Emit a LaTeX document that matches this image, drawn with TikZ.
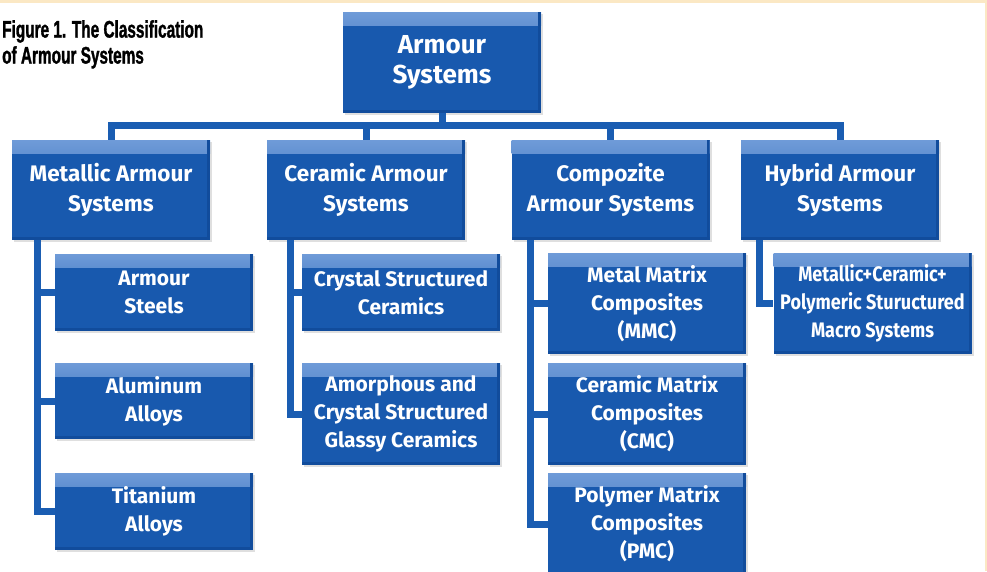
\documentclass[tikz,border=0pt]{standalone}
\usepackage{fontspec}
\newfontfamily\boxfont{Fira Sans}
\newfontfamily\narrowfont[FakeStretch=0.86]{Fira Sans}
\newfontfamily\capfont[FakeStretch=0.64,FakeBold=1.2]{Liberation Sans}
\usetikzlibrary{shadows}

\definecolor{boxblue}{HTML}{1859AE}
\definecolor{boxtop}{HTML}{6F9BD8}
\definecolor{boxbottom}{HTML}{114C9C}
\definecolor{linkblue}{HTML}{1A5DB2}
\definecolor{paper}{HTML}{FBE8C4}

\tikzset{
  bus/.style={to path={-- ++(0,12) -| (\tikztotarget)}},
  branch/.style={to path={|- (\tikztotarget)}}
}

\begin{document}
\begin{tikzpicture}[x=1pt,y=-1pt]

        \fill[paper] (0,0) rectangle (987,571);
        \fill[white] (0,3) rectangle (985,571);
        \useasboundingbox (0,0) rectangle (987,571);

        \node[anchor=north west,inner sep=0pt,align=left,
              font=\capfont\bfseries\fontsize{24}{26}\selectfont] (caption) at (2,20)
              {Figure 1. The Classification\\of Armour Systems};

        \begin{scope}[every node/.style={fill=boxblue,text=white,align=center,inner sep=0pt,
            minimum width=198pt,drop shadow={opacity=.25,shadow xshift=2pt,shadow yshift=-2pt},
            font=\boxfont\bfseries\fontsize{21}{28}\selectfont,
            path picture={
              \shade[top color=boxtop,bottom color=boxblue]
                (path picture bounding box.north west) rectangle ([yshift=-13pt]path picture bounding box.north east);
              \fill[boxbottom]
                (path picture bounding box.south west) rectangle ([yshift=3pt]path picture bounding box.south east);
              \fill[boxbottom]
                (path picture bounding box.north east) rectangle ([xshift=-3pt]path picture bounding box.south east);}}]
          \node[minimum height=101pt,font=\boxfont\bfseries\fontsize{26}{30}\selectfont] (0) at (442,62.5) {Armour\\Systems};

          \node[minimum height=100pt,font=\boxfont\bfseries\fontsize{22.5}{30}\selectfont] (1) at (111,190)   {Metallic Armour\\Systems};
          \node[minimum height=100pt,font=\boxfont\bfseries\fontsize{22.5}{30}\selectfont] (2) at (366,190)   {Ceramic Armour\\Systems};
          \node[minimum height=100pt,font=\boxfont\bfseries\fontsize{22.5}{30}\selectfont] (3) at (610.5,190) {Compozite\\Armour Systems};
          \node[minimum height=100pt,font=\boxfont\bfseries\fontsize{22.5}{30}\selectfont] (4) at (840,190)   {Hybrid Armour\\Systems};

          \node[minimum height=77pt]  (11) at (154,292.5) {Armour\\Steels};
          \node[minimum height=76pt]  (12) at (154,401)   {Aluminum\\Alloys};
          \node[minimum height=77pt]  (13) at (154,511.5) {Titanium\\Alloys};
          \node[minimum height=77pt]  (21) at (401,292.5) {Crystal Structured\\Ceramics};
          \node[minimum height=102pt] (22) at (401,414)   {Amorphous and\\Crystal Structured\\Glassy Ceramics};
          \node[minimum height=101pt] (31) at (647,303.5) {Metal Matrix\\Composites\\(MMC)};
          \node[minimum height=102pt] (32) at (647,414)   {Ceramic Matrix\\Composites\\(CMC)};
          \node[minimum height=102pt] (33) at (647,524)   {Polymer Matrix\\Composites\\(PMC)};
          \node[minimum height=101pt,font=\narrowfont\bfseries\fontsize{21}{28}\selectfont] (41) at (872.5,303.5) {Metallic+Ceramic+\\Polymeric Stuructured\\Macro Systems};
        \end{scope}

        \begin{scope}[every edge/.style={draw=linkblue,line width=7pt}]
          \path (0.south) edge[bus] (1.north);
          \path (0.south) edge[bus] (2.north);
          \path (0.south) edge[bus] (3.north);
          \path (0.south) edge[bus] (4.north);

          \path ([xshift=26pt]1.south west) edge[branch] (11.west);
          \path ([xshift=26pt]1.south west) edge[branch] (12.west);
          \path ([xshift=26pt]1.south west) edge[branch] (13.west);
          \path ([xshift=24pt]2.south west) edge[branch] (21.west);
          \path ([xshift=24pt]2.south west) edge[branch] (22.west);
          \path ([xshift=19pt]3.south west) edge[branch] (31.west);
          \path ([xshift=19pt]3.south west) edge[branch] (32.west);
          \path ([xshift=19pt]3.south west) edge[branch] (33.west);
          \path ([xshift=19pt]4.south west) edge[branch] (41.west);
        \end{scope}

      \end{tikzpicture}
\end{document}
